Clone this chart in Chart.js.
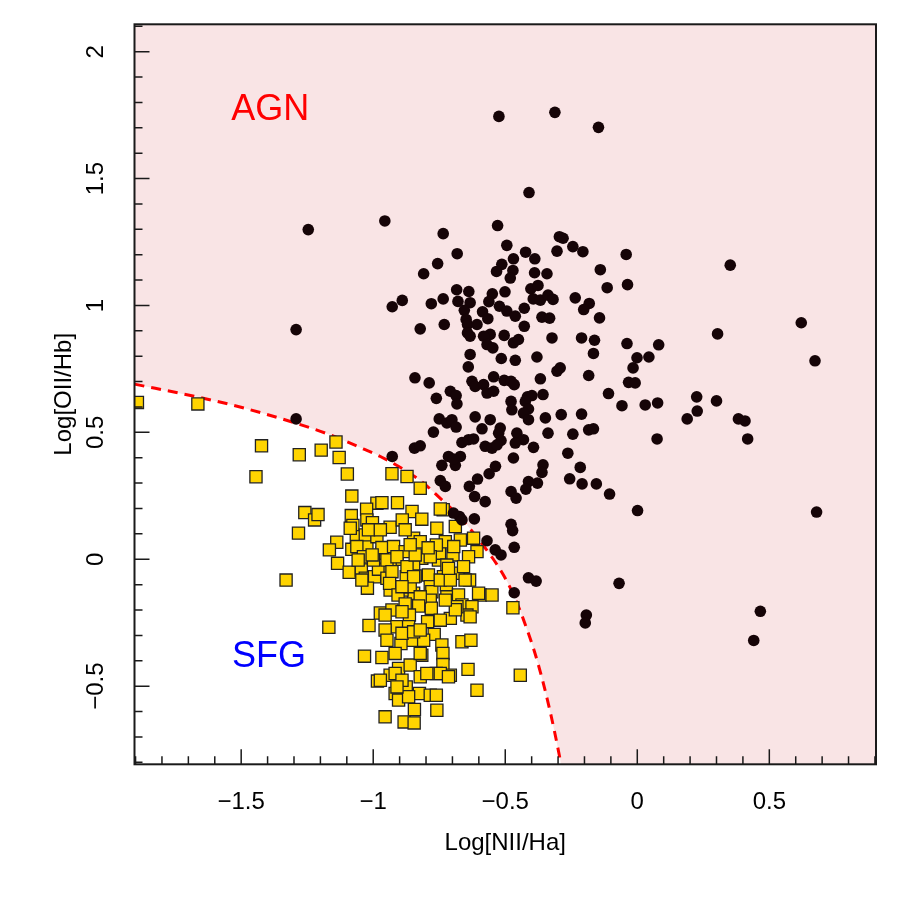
<!DOCTYPE html>
<html>
<head>
<meta charset="utf-8">
<title>Log[NII/Ha] vs Log[OII/Hb]</title>
<script src="https://cdn.jsdelivr.net/npm/chart.js"></script>
<style>
  html, body { margin: 0; padding: 0; background: #fff; }
  #wrap { width: 900px; height: 900px; }
</style>
</head>
<body>
<div id="wrap"><canvas id="bpt"></canvas></div>
<script>
// AGN sources (black dots)
const agnX = [-0.524,-0.312,-0.147,-0.410,-0.956,-0.529,-0.735,-0.682,-0.756,-0.809,
  -0.494,-0.423,-0.388,-0.469,-0.513,-0.533,-0.471,-0.481,-0.389,-0.342,
  -0.295,-0.281,-0.304,-0.244,-0.206,-0.140,-0.042,-0.037,-0.114,-0.235,
  -0.182,-0.203,-0.143,-0.928,-0.890,-0.780,-0.735,-0.684,-0.638,-0.679,
  -0.633,-0.655,-0.648,-0.643,-0.586,-0.566,-0.607,-0.549,-0.562,-0.501,
  -0.522,-0.494,-0.462,-0.428,-0.428,-0.403,-0.376,-0.394,-0.367,-0.338,
  -0.319,-0.361,-0.332,-0.731,-0.822,-1.246,-1.292,-1.292,-0.557,-0.582,
  -0.569,-0.547,-0.643,-0.633,-0.504,-0.469,-0.450,-0.323,-0.211,-0.162,
  -0.039,-0.166,-0.001,-0.016,-0.033,-0.008,-0.184,-0.109,-0.058,-0.304,
  -0.292,-0.380,-0.462,-0.515,-0.633,-0.640,-0.367,-0.357,-0.416,-0.399,
  -0.478,-0.475,-0.544,-0.504,-0.478,-0.466,-0.626,-0.614,-0.582,-0.569,
  -0.544,-0.842,-0.788,-0.761,-0.708,-0.686,-0.683,-0.424,-0.412,-0.431,
  -0.412,-0.348,-0.288,-0.211,-0.244,-0.184,-0.166,-0.338,-0.393,-0.263,
  -0.216,-0.357,-0.361,-0.256,-0.209,-0.155,-0.105,0.001,-0.412,-0.378,
  -0.422,-0.478,-0.459,-0.469,-0.537,-0.561,-0.605,-0.636,-0.616,-0.576,
  -0.746,-0.727,-0.740,-0.689,-0.715,-0.670,-0.696,-0.772,-0.750,-0.721,
  -0.702,-0.686,-0.614,-0.588,-0.557,-0.519,-0.525,-0.516,-0.456,-0.431,
  -0.462,-0.664,-0.639,-0.620,-0.576,-0.550,-0.531,-0.844,-0.822,-0.928,
  -0.617,-0.673,-0.664,-0.696,-0.478,-0.472,-0.569,-0.538,-0.516,-0.466,
  -0.412,-0.383,-0.466,-0.069,0.352,0.621,0.304,0.673,0.081,0.044,
  0.030,0.077,0.225,0.227,0.189,0.300,0.383,0.408,0.418,0.075,
  0.679,0.466,0.441,-0.193,-0.197];
const agnY = [1.745,1.761,1.702,1.445,1.333,1.315,1.283,1.204,1.165,1.125,
  1.237,1.210,1.184,1.184,1.162,1.134,1.138,1.108,1.129,1.125,
  1.271,1.265,1.214,1.232,1.212,1.141,1.201,1.082,1.070,1.030,
  1.008,0.984,0.951,0.995,1.020,1.007,1.026,1.062,1.055,1.016,
  1.011,0.981,0.945,0.925,0.975,0.948,0.925,1.046,1.015,1.054,
  0.997,0.978,0.958,0.989,0.918,1.066,1.079,1.026,1.021,1.041,
  1.024,0.954,0.950,0.925,0.908,1.299,0.905,0.553,0.886,0.879,
  0.846,0.833,0.892,0.879,0.882,0.853,0.866,0.872,0.872,0.863,
  0.850,0.811,0.794,0.754,0.697,0.695,0.724,0.653,0.605,0.741,
  0.754,0.797,0.784,0.791,0.807,0.758,0.711,0.649,0.640,0.645,
  0.622,0.589,0.719,0.705,0.701,0.688,0.701,0.681,0.688,0.655,
  0.662,0.715,0.695,0.634,0.662,0.645,0.612,0.622,0.592,0.576,
  0.550,0.557,0.570,0.572,0.493,0.510,0.514,0.497,0.441,0.418,
  0.362,0.372,0.342,0.317,0.297,0.297,0.257,0.192,0.306,0.300,
  0.276,0.267,0.241,0.399,0.366,0.337,0.316,0.287,0.247,0.227,
  0.310,0.287,0.370,0.370,0.405,0.405,0.395,0.501,0.553,0.537,
  0.550,0.521,0.561,0.514,0.550,0.517,0.497,0.468,0.497,0.471,
  0.458,0.460,0.471,0.474,0.445,0.438,0.451,0.438,0.447,0.405,
  0.159,0.168,0.155,0.182,0.138,0.113,0.073,0.037,0.017,0.047,
  -0.073,-0.086,-0.132,-0.095,1.159,0.932,0.888,0.782,0.845,0.797,
  0.608,0.616,0.640,0.584,0.553,0.624,0.553,0.545,0.474,0.474,
  0.186,-0.205,-0.320,-0.220,-0.251];

// star-forming galaxies (yellow squares)
const sfgX = [-1.893,-1.664,-1.141,-1.423,-1.280,-1.197,-1.129,-1.444,-1.098,-1.081,
  -0.986,-1.259,-1.222,-1.209,-1.283,-1.025,-1.083,-1.077,-1.024,-1.003,
  -1.064,-1.024,-1.030,-0.986,-1.138,-1.166,-1.081,-1.135,-1.091,-1.045,
  -1.030,-0.995,-0.980,-1.022,-1.330,-1.168,-1.016,-1.033,-0.973,-0.929,
  -0.872,-0.822,-0.908,-0.967,-0.853,-0.816,-0.936,-0.847,-0.759,-0.735,
  -0.689,-0.670,-0.620,-0.607,-0.910,-0.816,-0.847,-0.753,-0.749,-0.727,
  -0.698,-0.639,-0.936,-0.967,-0.791,-0.784,-0.723,-0.677,-0.635,-0.595,
  -0.550,-0.948,-0.936,-0.847,-0.891,-0.822,-0.761,-0.967,-0.923,-0.879,
  -0.721,-0.948,-0.929,-0.841,-0.734,-0.875,-0.938,-0.906,-0.860,-0.778,
  -0.721,-0.677,-0.664,-0.626,-0.645,-0.784,-0.780,-0.822,-0.828,-0.879,
  -0.863,-0.929,-0.955,-0.708,-0.794,-0.910,-0.866,-0.955,-0.948,-0.769,
  -0.853,-0.895,-0.809,-0.664,-0.630,-0.740,-0.736,-0.917,-0.816,-0.967,
  -0.736,-0.708,-0.904,-0.936,-0.860,-0.822,-0.761,-0.641,-0.443,-0.984,
  -0.875,-0.917,-0.904,-0.825,-0.784,-0.761,-0.607,-0.759,-0.844,-0.955,
  -0.883,-0.845,-0.471,-0.746,
  -0.910,-0.872,-0.841,-0.784,-0.847,-0.891,-0.891,-0.891,-0.847,-0.822,
  -0.917,-0.891,-0.866,-0.797,-0.746,-0.715,-0.910,-1.087,-1.062,-1.018,
  -1.037,-1.043,-0.999,-0.973,-0.746,-0.708,-0.652,-0.683,-0.633,-0.601,
  -0.695,-0.658,-0.715,-0.746,-0.689,-0.822,-0.727,-0.860,-0.792,-0.890,
  -0.879,-0.973,-1.057,-1.004];
const sfgY = [0.618,0.612,0.462,0.447,0.412,0.430,0.401,0.325,0.336,0.249,
  0.221,0.184,0.155,0.176,0.103,0.197,0.172,0.133,0.155,0.144,
  0.089,0.056,0.096,0.089,0.067,0.037,0.039,-0.016,-0.051,-0.042,
  -0.075,-0.069,-0.039,-0.114,-0.082,-0.268,-0.261,-0.382,-0.212,0.337,
  0.326,0.280,0.223,0.223,0.188,0.158,0.126,0.083,0.122,0.195,
  0.129,0.076,0.083,0.030,0.000,0.004,-0.029,-0.003,0.024,0.069,
  0.017,0.010,-0.029,0.024,-0.062,-0.108,-0.101,-0.055,-0.082,-0.141,
  -0.141,-0.075,-0.121,-0.134,-0.121,0.069,0.056,0.046,0.050,0.030,
  -0.023,-0.003,-0.049,-0.066,-0.069,-0.069,-0.095,-0.141,-0.108,-0.128,
  -0.148,-0.141,-0.180,-0.187,-0.220,-0.161,-0.193,-0.148,-0.184,-0.176,
  -0.220,-0.200,-0.220,-0.233,-0.246,-0.266,-0.266,-0.279,-0.319,-0.296,
  -0.319,-0.332,-0.319,-0.325,-0.319,-0.338,-0.371,-0.371,-0.378,-0.387,
  -0.415,-0.457,-0.430,-0.457,-0.417,-0.463,-0.450,-0.434,-0.457,-0.480,
  -0.503,-0.529,-0.555,-0.529,-0.536,-0.536,-0.516,-0.595,-0.592,-0.621,
  -0.641,-0.645,-0.191,0.198,
  0.010,-0.029,0.017,0.010,-0.069,-0.108,-0.207,-0.292,-0.286,-0.371,
  -0.450,-0.477,-0.542,-0.450,-0.450,-0.463,-0.503,0.122,0.050,0.116,
  0.010,-0.082,-0.003,-0.477,-0.082,-0.082,-0.082,-0.187,-0.227,-0.134,
  0.050,-0.029,-0.036,-0.240,-0.199,-0.279,-0.161,0.057,0.045,0.155,
  0.116,0.116,-0.003,0.017];

// dashed demarcation curve
const divX = [-1.904,-1.668,-1.542,-1.417,-1.289,-1.163,-1.038,-0.973,-0.822,-0.746,
  -0.670,-0.595,-0.545,-0.508,-0.473,-0.432,-0.379,-0.330,-0.292,-0.285];
const divY = [0.69,0.64,0.61,0.575,0.535,0.49,0.435,0.405,0.31,0.24,
  0.165,0.07,0.0,-0.06,-0.13,-0.235,-0.40,-0.60,-0.79,-0.83];

// axis ticks
const xTicks = [-1.5, -1, -0.5, 0, 0.5];
const yTicks = [-0.5, 0, 0.5, 1, 1.5, 2];
const xMinor = [-1.9,-1.8,-1.7,-1.6,-1.5,-1.4,-1.3,-1.2,-1.1,-1,-0.9,-0.8,-0.7,-0.6,-0.5,
  -0.4,-0.3,-0.2,-0.1,0,0.1,0.2,0.3,0.4,0.5,0.6,0.7,0.8,0.9];
const yMinor = [-0.8,-0.7,-0.6,-0.5,-0.4,-0.3,-0.2,-0.1,0,0.1,0.2,0.3,0.4,0.5,0.6,0.7,
  0.8,0.9,1,1.1,1.2,1.3,1.4,1.5,1.6,1.7,1.8,1.9,2,2.1];

const FONT = '"Liberation Sans", Arial, Helvetica, sans-serif';
const pts = (xs, ys) => xs.map((x, i) => ({ x: x, y: ys[i] }));
const fmt = v => (v < 0 ? '\u2212' : '') + Math.abs(v);

// inward ticks, box and region labels
const frame = {
  id: 'frame',
  afterDatasetsDraw(chart) {
    const { ctx, chartArea: a, scales: { x, y } } = chart;
    ctx.save();
    ctx.strokeStyle = '#1a1a1a';
    ctx.lineWidth = 1.5;
    ctx.beginPath();
    xMinor.forEach(v => {
      const p = x.getPixelForValue(v);
      const len = xTicks.includes(v) ? 15 : 8;
      ctx.moveTo(p, a.bottom);
      ctx.lineTo(p, a.bottom - len);
    });
    yMinor.forEach(v => {
      const p = y.getPixelForValue(v);
      const len = yTicks.includes(v) ? 15 : 8;
      ctx.moveTo(a.left, p);
      ctx.lineTo(a.left + len, p);
    });
    ctx.stroke();
    ctx.lineWidth = 2;
    ctx.strokeRect(a.left, a.top, a.right - a.left, a.bottom - a.top);

    ctx.font = '36px ' + FONT;
    ctx.textAlign = 'center';
    ctx.textBaseline = 'middle';
    ctx.fillStyle = '#ff0000';
    ctx.fillText('AGN', x.getPixelForValue(-1.39), y.getPixelForValue(1.77));
    ctx.fillStyle = '#0000ff';
    ctx.fillText('SFG', x.getPixelForValue(-1.395), y.getPixelForValue(-0.386));
    ctx.restore();
  }
};

new Chart(document.getElementById('bpt'), {
  type: 'scatter',
  data: {
    datasets: [
      {
        type: 'line',
        label: 'AGN region',
        data: pts(divX.concat([0.904]), divY.concat([-0.83])),
        showLine: true,
        borderWidth: 0,
        borderColor: 'rgba(0,0,0,0)',
        backgroundColor: '#f9e4e5',
        pointRadius: 0,
        cubicInterpolationMode: 'monotone',
        fill: 'end',
        order: 4
      },
      {
        type: 'line',
        label: 'division',
        data: pts(divX, divY),
        showLine: true,
        borderColor: '#ff0000',
        borderWidth: 3,
        borderDash: [10, 7],
        pointRadius: 0,
        cubicInterpolationMode: 'monotone',
        fill: false,
        order: 3
      },
      {
        label: 'SFG',
        data: pts(sfgX, sfgY),
        pointStyle: 'rect',
        pointRadius: 8.6,
        backgroundColor: '#ffd400',
        borderColor: '#222222',
        borderWidth: 1.3,
        order: 2
      },
      {
        label: 'AGN',
        data: pts(agnX, agnY),
        pointStyle: 'circle',
        pointRadius: 5.8,
        backgroundColor: '#160407',
        borderWidth: 0,
        order: 1
      }
    ]
  },
  options: {
    responsive: true,
    maintainAspectRatio: false,
    animation: false,
    layout: { padding: { left: 0, top: 24.3, right: 24, bottom: 0 } },
    plugins: {
      legend: { display: false },
      tooltip: { enabled: false }
    },
    scales: {
      x: {
        type: 'linear',
        min: -1.904,
        max: 0.904,
        afterBuildTicks: s => { s.ticks = xTicks.map(v => ({ value: v })); },
        afterFit: s => { s.height = 135.7; },
        grid: { display: false },
        border: { display: false },
        ticks: {
          color: '#000',
          font: { family: FONT, size: 24 },
          padding: 16,
          maxRotation: 0,
          autoSkip: false,
          callback: v => fmt(v)
        },
        title: {
          display: true,
          text: 'Log[NII/Ha]',
          color: '#000',
          font: { family: FONT, size: 24 },
          padding: { top: 0, bottom: 42 }
        }
      },
      y: {
        type: 'linear',
        min: -0.808,
        max: 2.108,
        afterBuildTicks: s => { s.ticks = yTicks.map(v => ({ value: v })); },
        afterFit: s => { s.width = 134.5; },
        grid: { display: false },
        border: { display: false },
        ticks: {
          color: '#000',
          font: { family: FONT, size: 24 },
          minRotation: 90,
          maxRotation: 90,
          crossAlign: 'center',
          padding: 6,
          autoSkip: false,
          callback: v => fmt(v)
        },
        title: {
          display: true,
          text: 'Log[OII/Hb]',
          color: '#000',
          font: { family: FONT, size: 24 },
          padding: { top: 50, bottom: 0 }
        }
      }
    }
  },
  plugins: [frame]
});
</script>
</body>
</html>
